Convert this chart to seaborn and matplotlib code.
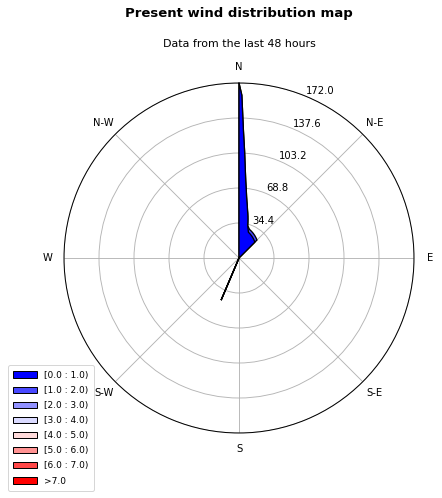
import numpy as np
import matplotlib
matplotlib.use("Agg")
import matplotlib.pyplot as plt
from matplotlib.patches import Patch
import seaborn as sns

# ---------------- data ----------------
direction_deg = [0, 1, 2, 3, 4, 5, 6, 7, 8, 9, 10, 11, 12, 13, 14, 15,
                 20, 25, 30, 35, 40, 45, 46, 202, 203, 204]
speed_0_1 = [172, 160, 125, 105, 88, 76, 68, 61, 56, 52, 48, 45, 42, 39, 36, 33,
             27, 26, 25, 24, 23, 22, 0, 0, 45, 0]
speed_1_2 = [0, 0, 0, 0, 0, 0, 0, 0, 0, 0, 0, 0, 0, 0, 0, 0,
             3, 3, 3, 3, 3, 3, 0, 0, 0, 0]
speed_bins = [speed_0_1, speed_1_2]

bin_labels = ["[0.0 : 1.0)", "[1.0 : 2.0)", "[2.0 : 3.0)", "[3.0 : 4.0)",
              "[4.0 : 5.0)", "[5.0 : 6.0)", "[6.0 : 7.0)", ">7.0"]
direction_labels = ["N", "N-E", "E", "S-E", "S", "S-W", "W", "N-W"]
direction_ticks = [0, 45, 90, 135, 180, 225, 270, 315]
radial_ticks = [34.4, 68.8, 103.2, 137.6, 172.0]

title = "Present wind distribution map"
subtitle = "Data from the last 48 hours"

# ---------------- style ----------------
sns.set_style("white", {"text.color": "black", "xtick.color": "black",
                        "ytick.color": "black", "axes.labelcolor": "black"})
plt.rcParams["font.family"] = ["DejaVu Sans"]
colors = sns.blend_palette(["blue", "white", "red"], len(bin_labels))

W, H, DPI = 442, 498, 72
fig = plt.figure(figsize=(W / DPI, H / DPI), dpi=DPI)
ax = fig.add_axes([64 / W, 65 / H, 350 / W, 350 / H], projection="polar")
ax.set_theta_zero_location("N")
ax.set_theta_direction(-1)

theta = np.deg2rad(np.r_[0, direction_deg, direction_deg[-1]])
cum_layers = np.cumsum(np.array(speed_bins, dtype=float), axis=0)
for i in reversed(range(len(speed_bins))):
    r = np.r_[0, cum_layers[i], 0]
    ax.fill(theta, r, facecolor=colors[i], edgecolor="black",
            linewidth=1.3, zorder=3 + (len(speed_bins) - i))

ax.set_ylim(0, radial_ticks[-1])
ax.set_rgrids(radial_ticks, labels=[f"{t:.1f}" for t in radial_ticks],
              angle=22.5, fontsize=10, color="black")
ax.set_thetagrids(direction_ticks, labels=direction_labels, fontsize=10,
                  color="black")
ax.tick_params(axis="x", pad=6)
ax.grid(True, color="#b4b4b4", linewidth=0.9)
ax.spines["polar"].set_color("black")
ax.spines["polar"].set_linewidth(1.0)
ax.set_facecolor("white")

fig.text(239 / W, 1 - 13 / H, title, ha="center", va="center",
         fontsize=13.3, fontweight="bold", color="black")
fig.text(239 / W, 1 - 44 / H, subtitle, ha="center", va="center",
         fontsize=11, color="black")

handles = [Patch(facecolor=c, edgecolor="black", label=l)
           for c, l in zip(colors, bin_labels)]
fig.legend(handles=handles, loc="lower left", bbox_to_anchor=(8 / W, 7 / H),
           borderaxespad=0, fontsize=9, handlelength=2.6, labelspacing=0.68,
           borderpad=0.6, frameon=True, labelcolor="black")

fig.savefig("out.png", dpi=DPI, facecolor="white")
